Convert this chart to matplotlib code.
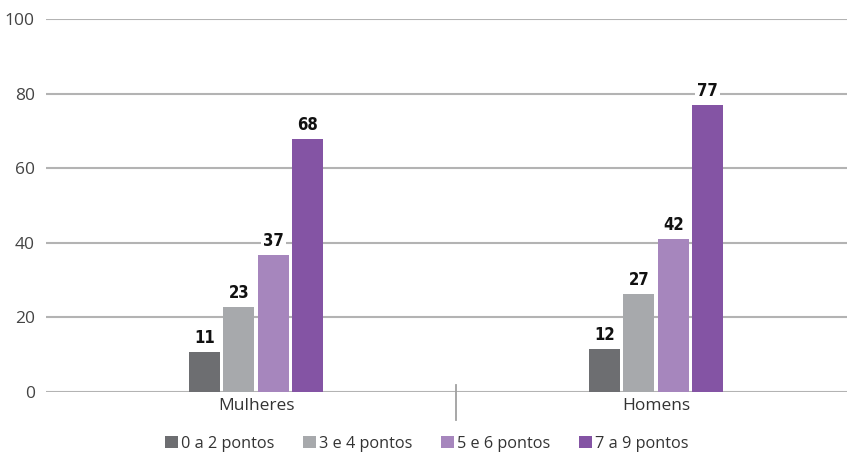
import matplotlib
matplotlib.use("Agg")
import matplotlib.pyplot as plt
import numpy as np
from matplotlib.patches import Patch
from matplotlib import font_manager as fm

categories = ["Mulheres", "Homens"]
series_names = ["0 a 2 pontos", "3 e 4 pontos", "5 e 6 pontos", "7 a 9 pontos"]
values = [
    [10.7, 11.5],
    [22.7, 26.4],
    [36.8, 41.1],
    [67.8, 77.0],
]
labels = [
    ["11", "12"],
    ["23", "27"],
    ["37", "42"],
    ["68", "77"],
]
colors = ["#6d6e71", "#a7a9ac", "#a686bd", "#8454a4"]
yticks = [0, 20, 40, 60, 80, 100]

plt.rcParams['font.family'] = ['Open Sans', 'DejaVu Sans']

names = {f.name for f in fm.fontManager.ttflist}
val_font = dict(family=['DejaVu Sans'], fontstretch='condensed')
if 'Liberation Sans Narrow' in names:
    val_font = dict(family=['Liberation Sans Narrow'])

fig = plt.figure(figsize=(8.47, 4.54), dpi=100)
ax = fig.add_axes([46/847, 1-392/454, 801/847, 373/454])

x = np.arange(len(categories))
bw = 0.078
step = 0.086
for i, (name, vals, labs, c) in enumerate(zip(series_names, values, labels, colors)):
    xs = x + (i - 1.5) * step
    ax.bar(xs, vals, width=bw, color=c, zorder=3, label=name)
    for xi, v, lab in zip(xs, vals, labs):
        ax.text(xi, v + 1.3, lab, ha='center', va='bottom', fontsize=12,
                fontweight='bold', color='#111111', zorder=5,
                bbox=dict(facecolor='white', edgecolor='none', pad=1.5), **val_font)

ax.set_xlim(-0.525, 1.4775)
ax.set_ylim(0, 100)
ax.set_yticks(yticks)
ax.set_yticklabels([str(t) for t in yticks], fontsize=12.5, color='#444444')
ax.yaxis.grid(True, color='#b3b3b3', linewidth=1.5, zorder=0)
ax.set_axisbelow(True)
ax.tick_params(axis='y', length=0, pad=8)
ax.set_xticks(x)
ax.set_xticklabels(categories, fontsize=12.5, color='#333333')
ax.tick_params(axis='x', length=0, pad=4)
for s in ax.spines.values():
    s.set_visible(False)

ax.plot([0.5, 0.5], [1.9, -7.5], color='#a0a0a0', linewidth=1.3, clip_on=False, zorder=4)

handles = [Patch(facecolor=c, edgecolor='none') for c in colors]
fig.legend(handles, series_names, loc='center', bbox_to_anchor=(427/847, 1-444/454),
           ncol=4, frameon=False, fontsize=11.7, handlelength=0.8, handleheight=0.75,
           handletextpad=0.2, columnspacing=1.75, labelcolor='#333333')

fig.savefig("out.png", dpi=100)
